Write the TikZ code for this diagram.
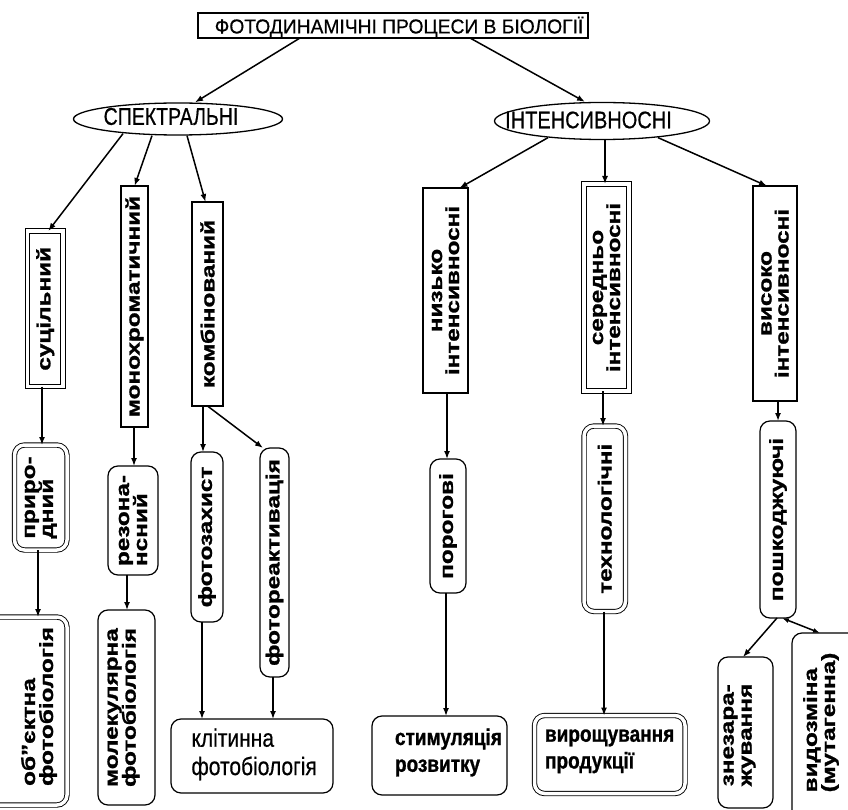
\documentclass[tikz,border=0pt]{standalone}
\usepackage{fontspec}
\setmainfont{Liberation Sans}[BoldFeatures={FakeBold=1.1}]
\newfontfamily\titlefont{Liberation Sans}[FakeBold=0.6]
\usetikzlibrary{arrows.meta,shapes.geometric}
\newcommand{\stkL}[2]{\vtop{\baselineskip=#1\lineskiplimit=-100pt\lineskip=0pt\halign{##\hfil\cr#2\crcr}}}
\newcommand{\stkC}[2]{\vtop{\baselineskip=#1\lineskiplimit=-100pt\lineskip=0pt\halign{\hfil##\hfil\cr#2\crcr}}}
\newcommand{\vt}[1]{\rotatebox{90}{\scalebox{1.28}[1]{\fontsize{19pt}{17pt}\selectfont\bfseries #1}}}
\newcommand{\hzt}[3]{\scalebox{1}[1.2]{#1\stkL{#2}{#3}}}
\begin{document}
\begin{tikzpicture}[x=1pt,y=-1pt,
 box/.style={draw, line width=1.2pt, inner sep=0pt, outer sep=0pt},
 rbox/.style={box, rounded corners=10pt},
 dbl/.style={double, double distance=3.5pt, line width=0.9pt},
 ell/.style={draw, ellipse, line width=1.3pt, inner sep=0pt},
 arr/.style={line width=1.5pt, -{Latex[length=8pt,width=6pt]}},
 sz/.style 2 args={minimum width=#1pt, minimum height=#2pt},
 txt/.style={inner sep=0pt, outer sep=0pt}]
\path[use as bounding box, clip] (0,0) rectangle (848,810);
\fill[white] (0,0) rectangle (848,810);

% title and ellipses
\node[box, line width=1.8pt, sz={390}{25}] (title) at (393,25.5) {};
\node[txt] (titlet) at (399,27)
  {\scalebox{1.1}[1.15]{\titlefont\fontsize{17.5pt}{18pt}\selectfont ФОТОДИНАМІЧНІ ПРОЦЕСИ В БІОЛОГІЇ}};
\node[ell, sz={209}{32}] (spec) at (178,119) {};
\node[txt] (spect) at (171,116.5)
  {\scalebox{1}[1.25]{\titlefont\fontsize{19.5pt}{20pt}\selectfont СПЕКТРАЛЬНІ}};
\node[ell, sz={215}{37}] (inten) at (602,121) {};
\node[txt] (intent) at (588.5,120)
  {\scalebox{1}[1.2]{\titlefont\fontsize{20pt}{21pt}\selectfont ІНТЕНСИВНОСНІ}};

% top row
\node[box,dbl,sz={35.5}{155.5}] (sucil) at (45.25,308.75) {\vt{суцільний}};
\node[box,sz={27}{241}] (mono) at (134.5,306.5) {\vt{монохроматичний}};
\node[box,sz={31}{204}] (komb) at (207.5,304) {\vt{комбінований}};
\node[box,sz={45}{205}] (nyzko) at (445.5,290.5) {\vt{\stkC{17pt}{низько\cr інтенсивносні}}};
\node[box,dbl,sz={45}{207}] (sered) at (606.5,287.5) {\vt{\stkC{17pt}{середньо\cr інтенсивносні}}};
\node[box,sz={44}{215}] (vysoko) at (775,293.5) {\vt{\stkC{17pt}{високо\cr інтенсивносні}}};

% middle row
\node[rbox,dbl,sz={52.5}{105}] (pryrod) at (40.75,497.5) {\vt{\stkL{18pt}{приро-\cr дний}}};
\node[rbox,sz={50}{109}] (rezon) at (133,520.5) {\vt{\stkL{18pt}{резона-\cr нсний}}};
\node[rbox,sz={32}{170}] (fotozakh) at (207,537) {\vt{фотозахист}};
\node[rbox,sz={29}{229}] (fotoreakt) at (274.5,562.5) {\vt{фотореактивація}};
\node[rbox,sz={36}{134}] (porog) at (448,526) {\vt{порогові}};
\node[rbox,dbl,sz={41.5}{185.5}] (tekhnol) at (604.75,518.75) {\vt{технологічні}};
\node[rbox,sz={36}{197}] (poshk) at (778,519.5) {\vt{пошкоджуючі}};

% bottom row
\node[rbox,dbl,sz={79}{188}] (obj) at (27.5,711) {};
\node[txt] (objt) at (39,706.5) {\vt{\stkL{18pt}{об"єктна\cr фотобіологія}}};
\node[rbox,sz={57}{195}] (molek) at (126.5,707.5) {};
\node[txt] (molekt) at (123.5,707.5) {\vt{\stkL{18pt}{молекулярна\cr фотобіологія}}};
\node[rbox,sz={162}{74}] (klit) at (252,756) {};
\node[txt,anchor=base west] (klitt) at (191.5,746.7)
  {\hzt{\titlefont\fontsize{21pt}{21pt}\selectfont}{23.6pt}{клітинна\cr фотобіологія}};
\node[rbox,sz={135}{79}] (stym) at (439.5,755.5) {};
\node[txt,anchor=base west] (stymt) at (395,745)
  {\hzt{\fontsize{19pt}{19pt}\selectfont\bfseries}{22.3pt}{стимуляція\cr розвитку}};
\node[rbox,dbl,sz={150.5}{78}] (vyr) at (609.75,754.5) {};
\node[txt,anchor=base west] (vyrt) at (545,741.7)
  {\hzt{\fontsize{19pt}{19pt}\selectfont\bfseries}{22.3pt}{вирощування\cr продукції}};
\node[rbox,sz={55}{151}] (znez) at (745.5,732.5) {};
\node[txt] (znezt) at (739.5,735) {\vt{\stkL{18pt}{знезара-\cr жування}}};
\node[rbox,sz={78}{197}] (vydoz) at (831,731.5) {};
\node[txt] (vydozt) at (821,722.5) {\vt{\stkL{18pt}{видозміна\cr (мутагенна)}}};

% connectors
\draw[arr] ([xshift=-93pt]title.south) -- ([xshift=17pt]spec.north);
\draw[arr] ([xshift=77pt]title.south) -- ([xshift=-17pt]inten.north);
\draw[arr] ([xshift=-55pt,yshift=2pt]spec.south) -- ([xshift=3pt]sucil.north);
\draw[arr] ([xshift=-26pt]spec.south) -- (mono.north);
\draw[arr] ([xshift=9pt]spec.south) -- ([xshift=-2pt]komb.north);
\draw[arr] ([xshift=-54pt,yshift=2.5pt]inten.south) -- ([xshift=14pt]nyzko.north);
\draw[arr] ([xshift=3pt]inten.south) -- ([xshift=3pt]inten.south |- sered.north);
\draw[arr] ([xshift=56pt,yshift=2.5pt]inten.south) -- ([xshift=-8pt]vysoko.north);

\draw[arr] ([xshift=-3.25pt]sucil.south) -- ([xshift=-3.25pt]sucil.south |- pryrod.north);
\draw[arr] ([xshift=-2.75pt]pryrod.south) -- ([xshift=-2.75pt]pryrod.south |- obj.north);
\draw[arr] ([xshift=-0.5pt]mono.south) -- ([xshift=-0.5pt]mono.south |- rezon.north);
\draw[arr] ([xshift=-6pt]rezon.south) -- ([xshift=-6pt]rezon.south |- molek.north);
\draw[arr] ([xshift=-4.5pt]komb.south) -- ([xshift=-4.5pt]komb.south |- fotozakh.north);
\draw[arr] (komb.south) -- ([xshift=-11.5pt]fotoreakt.north);
\draw[arr] ([xshift=-5pt]fotozakh.south) -- ([xshift=-5pt]fotozakh.south |- klit.north);
\draw[arr] ([xshift=-1.5pt]fotoreakt.south) -- ([xshift=-1.5pt]fotoreakt.south |- klit.north);
\draw[arr] ([xshift=1.5pt]nyzko.south) -- ([xshift=1.5pt]nyzko.south |- porog.north);
\draw[arr] ([xshift=-2pt]porog.south) -- ([xshift=-2pt]porog.south |- stym.north);
\draw[arr] ([xshift=-3.5pt]sered.south) -- ([xshift=-3.5pt]sered.south |- tekhnol.north);
\draw[arr] ([xshift=-0.75pt]tekhnol.south) -- ([xshift=-0.75pt]tekhnol.south |- vyr.north);
\draw[arr] ([xshift=3pt]vysoko.south) -- ([xshift=3pt]vysoko.south |- poshk.north);
\draw[arr] ([xshift=-1pt]poshk.south) -- ([xshift=-2.5pt]znez.north);
\draw[line width=1.5pt, {Latex[length=7pt,width=5pt]}-{Latex[length=7pt,width=5pt]}] ([xshift=4pt]poshk.south) -- ([xshift=-11pt]vydoz.north);
\end{tikzpicture}
\end{document}
